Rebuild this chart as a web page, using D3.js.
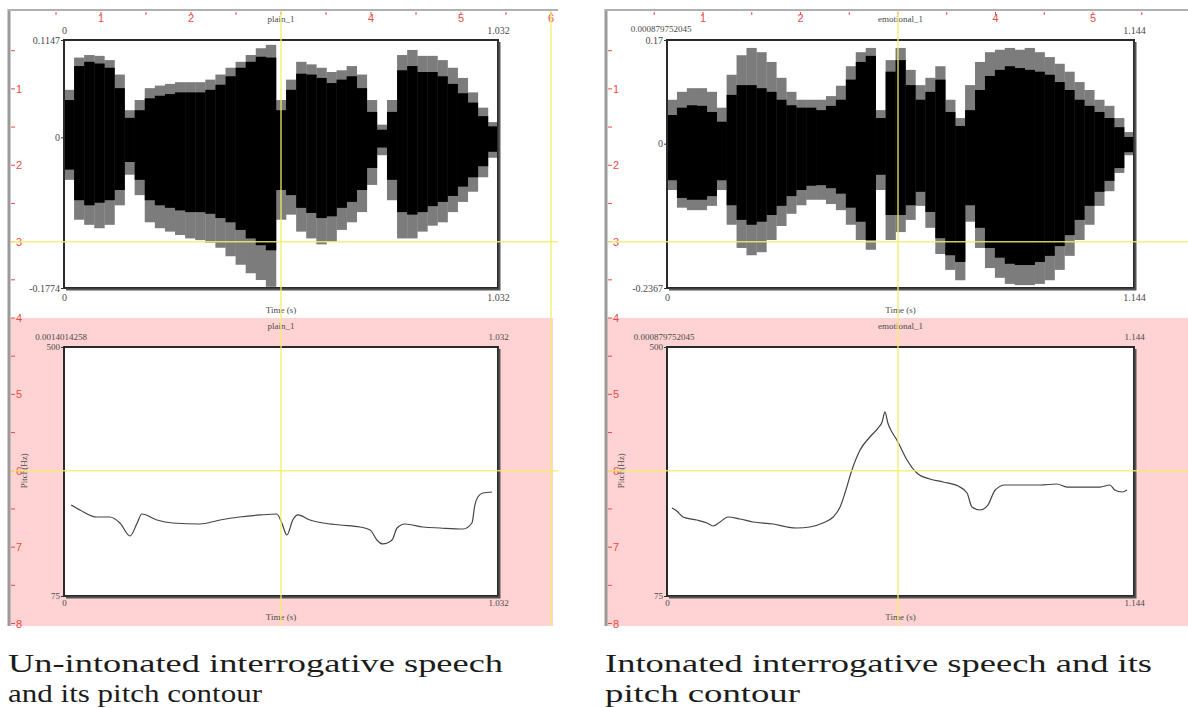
<!DOCTYPE html>
<html>
<head>
<meta charset="utf-8">
<script src="https://cdn.jsdelivr.net/npm/d3@7"></script>
<style>
  body { margin: 0; background: #fff; }
  svg { display: block; }
</style>
</head>
<body>
<svg id="chart" width="1188" height="708"></svg>
<script>
// ---- plain_1 (un-intonated) ----
const plainDur = 1.032;
const plainAmp = [-0.1774, 0.1147];
const plainOffset = "0.0014014258";
// waveform envelope, equal time bins across the recording
const plainGrayTop = [0.056, 0.094, 0.097, 0.096, 0.091, 0.074, 0.032, 0.044, 0.058, 0.061, 0.063, 0.065, 0.065, 0.065, 0.068, 0.074, 0.082, 0.089, 0.097, 0.105, 0.109, 0.044, 0.068, 0.089, 0.086, 0.082, 0.077, 0.079, 0.084, 0.074, 0.044, 0.015, 0.044, 0.097, 0.103, 0.096, 0.096, 0.091, 0.082, 0.070, 0.053, 0.035, 0.018];
const plainBlackTop = [0.044, 0.084, 0.089, 0.087, 0.082, 0.058, 0.023, 0.032, 0.046, 0.049, 0.051, 0.053, 0.053, 0.053, 0.056, 0.062, 0.072, 0.082, 0.089, 0.095, 0.094, 0.032, 0.056, 0.075, 0.074, 0.070, 0.064, 0.068, 0.072, 0.058, 0.030, 0.009, 0.030, 0.079, 0.084, 0.077, 0.077, 0.072, 0.063, 0.052, 0.041, 0.025, 0.013];
const plainBlackBottom = [-0.038, -0.074, -0.080, -0.077, -0.074, -0.062, -0.029, -0.050, -0.074, -0.080, -0.083, -0.086, -0.088, -0.088, -0.090, -0.095, -0.100, -0.109, -0.119, -0.127, -0.133, -0.062, -0.068, -0.083, -0.089, -0.095, -0.093, -0.083, -0.076, -0.062, -0.036, -0.012, -0.050, -0.088, -0.091, -0.088, -0.081, -0.076, -0.069, -0.058, -0.047, -0.034, -0.017];
const plainGrayBottom = [-0.050, -0.097, -0.103, -0.107, -0.103, -0.080, -0.044, -0.068, -0.100, -0.107, -0.111, -0.115, -0.119, -0.121, -0.124, -0.130, -0.140, -0.150, -0.160, -0.168, -0.176, -0.097, -0.091, -0.111, -0.119, -0.126, -0.123, -0.109, -0.100, -0.088, -0.056, -0.021, -0.074, -0.119, -0.119, -0.111, -0.104, -0.100, -0.088, -0.076, -0.064, -0.047, -0.024];
// pitch contour
const plainPitchT = [0.017, 0.038, 0.078, 0.109, 0.133, 0.157, 0.174, 0.185, 0.221, 0.259, 0.323, 0.371, 0.418, 0.466, 0.506, 0.518, 0.530, 0.544, 0.556, 0.585, 0.616, 0.656, 0.704, 0.728, 0.744, 0.758, 0.780, 0.792, 0.811, 0.854, 0.894, 0.949, 0.970, 0.977, 0.984, 0.996, 1.018];
const plainPitchHz = [230.3, 221.8, 209.8, 209.8, 199.6, 177.4, 199.6, 215.0, 204.7, 199.6, 197.9, 204.7, 209.8, 213.3, 215.0, 199.6, 179.1, 204.7, 213.3, 204.7, 199.6, 196.2, 192.8, 187.6, 170.6, 163.8, 170.6, 191.1, 197.9, 192.8, 191.1, 189.4, 199.6, 230.3, 244.0, 250.8, 252.5];

// ---- emotional_1 (intonated) ----
const emoDur = 1.144;
const emoAmp = [-0.2367, 0.17];
const emoOffset = "0.000879752045";
const emoGrayTop = [0.072, 0.085, 0.091, 0.091, 0.085, 0.059, 0.113, 0.145, 0.157, 0.150, 0.134, 0.108, 0.085, 0.072, 0.072, 0.072, 0.078, 0.095, 0.127, 0.150, 0.157, 0.055, 0.137, 0.157, 0.121, 0.096, 0.108, 0.127, 0.072, 0.042, 0.096, 0.134, 0.150, 0.154, 0.157, 0.154, 0.157, 0.150, 0.142, 0.131, 0.118, 0.101, 0.088, 0.072, 0.062, 0.042, 0.019];
const emoBlackTop = [0.047, 0.059, 0.063, 0.062, 0.052, 0.036, 0.080, 0.096, 0.096, 0.091, 0.085, 0.072, 0.063, 0.059, 0.059, 0.055, 0.062, 0.072, 0.105, 0.134, 0.144, 0.042, 0.118, 0.137, 0.096, 0.072, 0.085, 0.105, 0.052, 0.029, 0.055, 0.088, 0.111, 0.121, 0.127, 0.124, 0.121, 0.118, 0.113, 0.101, 0.088, 0.072, 0.062, 0.052, 0.042, 0.027, 0.011];
const emoBlackBottom = [-0.060, -0.089, -0.092, -0.092, -0.086, -0.060, -0.101, -0.125, -0.133, -0.128, -0.117, -0.102, -0.086, -0.076, -0.069, -0.068, -0.073, -0.082, -0.105, -0.128, -0.158, -0.051, -0.117, -0.117, -0.101, -0.079, -0.112, -0.155, -0.183, -0.194, -0.101, -0.138, -0.171, -0.187, -0.197, -0.199, -0.199, -0.194, -0.184, -0.168, -0.150, -0.125, -0.102, -0.079, -0.061, -0.040, -0.014];
const emoGrayBottom = [-0.076, -0.105, -0.109, -0.109, -0.102, -0.076, -0.133, -0.171, -0.183, -0.178, -0.158, -0.135, -0.115, -0.101, -0.092, -0.092, -0.099, -0.109, -0.133, -0.158, -0.174, -0.076, -0.158, -0.145, -0.125, -0.102, -0.138, -0.181, -0.207, -0.224, -0.128, -0.171, -0.204, -0.220, -0.230, -0.232, -0.232, -0.230, -0.224, -0.207, -0.184, -0.158, -0.133, -0.102, -0.078, -0.048, -0.019];
const emoPitchT = [0.012, 0.024, 0.039, 0.073, 0.098, 0.113, 0.130, 0.149, 0.179, 0.211, 0.260, 0.294, 0.318, 0.350, 0.382, 0.407, 0.424, 0.436, 0.453, 0.473, 0.497, 0.517, 0.527, 0.534, 0.541, 0.551, 0.563, 0.588, 0.612, 0.644, 0.676, 0.713, 0.735, 0.747, 0.767, 0.786, 0.804, 0.828, 0.872, 0.914, 0.955, 0.980, 1.019, 1.061, 1.085, 1.097, 1.115, 1.127];
const emoPitchHz = [225.2, 220.1, 209.8, 204.7, 199.6, 194.5, 201.3, 209.8, 206.4, 201.3, 197.9, 192.8, 191.1, 192.8, 199.6, 209.8, 226.9, 250.8, 290.1, 324.2, 346.4, 361.7, 372.0, 389.1, 370.3, 354.9, 341.3, 307.1, 284.9, 274.7, 269.6, 262.7, 250.8, 226.9, 221.8, 230.3, 255.9, 264.5, 264.5, 264.5, 266.2, 261.0, 261.0, 261.0, 264.5, 255.9, 252.5, 255.9];

const pitchRange = [75, 500];
// the "3" of the top ruler is covered by the recording title
const rulerXLabels = [1, 2, 4, 5, 6];
const rulerYLabels = [1, 2, 3, 4, 5, 6, 7, 8];

const captionLeft = ["Un-intonated interrogative speech", "and its pitch contour"];
const captionRight = ["Intonated interrogative speech and its", "pitch contour"];

const svg = d3.select("#chart");
const serif = "'Liberation Serif', 'Times New Roman', serif";
const sans = "'Liberation Sans', Arial, sans-serif";
const red = "#ee4a45";
const yellow = "#f4ee6a";

function drawPanel(p) {
  const g = svg.append("g");
  const rx = d3.scaleLinear().domain([0, 6]).range(p.rulerX);
  const ry = d3.scaleLinear().domain([0, 8]).range([12.5, 623.5]);
  const bottom = 626;

  // lower pink band
  g.append("rect")
    .attr("x", p.frame[0]).attr("y", ry(4))
    .attr("width", p.frame[1] - p.frame[0]).attr("height", bottom - ry(4))
    .attr("fill", "#ffd3d3");

  // frame edges
  g.append("line")
    .attr("x1", p.frame[0] + 1).attr("x2", p.frame[0] + 1)
    .attr("y1", 9).attr("y2", bottom)
    .attr("stroke", "#9a9a9a").attr("stroke-width", 3);
  g.append("line")
    .attr("x1", p.frame[0]).attr("x2", p.frameTop)
    .attr("y1", 10).attr("y2", 10)
    .attr("stroke", "#b0b0b0").attr("stroke-width", 2);

  // ruler ticks (red)
  const halfX = d3.range(0.5, 6.01, 0.5).filter(d => rx(d) < 1186);
  g.append("g").selectAll("line").data(halfX).join("line")
    .attr("x1", d => rx(d)).attr("x2", d => rx(d))
    .attr("y1", 12).attr("y2", 15)
    .attr("stroke", red).attr("stroke-width", 1);
  g.append("g").selectAll("text").data(rulerXLabels.filter(d => rx(d) < 1180)).join("text")
    .attr("x", d => rx(d)).attr("y", 22)
    .attr("text-anchor", "middle")
    .attr("font-family", sans).attr("font-size", 11)
    .attr("fill", red)
    .text(d => d);

  const halfY = d3.range(0.5, 8.01, 0.5);
  g.append("g").selectAll("line").data(halfY).join("line")
    .attr("x1", p.frame[0] + 3).attr("x2", p.frame[0] + 7)
    .attr("y1", d => ry(d)).attr("y2", d => ry(d))
    .attr("stroke", red).attr("stroke-width", 1);
  g.append("g").selectAll("text").data(rulerYLabels).join("text")
    .attr("x", p.frame[0] + 8).attr("y", d => ry(d) + 4)
    .attr("font-family", sans).attr("font-size", 11)
    .attr("fill", red)
    .text(d => d);

  const cx = (p.x0 + p.x1) / 2;
  const labelStyle = sel => sel.attr("font-family", serif).attr("font-size", 9).attr("fill", "#4a4a4a");

  // ---- waveform ----
  const wt = { y0: 40, y1: 288 };
  g.append("rect").attr("x", p.x0).attr("y", wt.y0)
    .attr("width", p.x1 - p.x0).attr("height", wt.y1 - wt.y0).attr("fill", "#fff");
  const tx = d3.scaleLinear().domain([0, p.dur]).range([p.x0, p.x1]);
  const ay = d3.scaleLinear().domain(p.amp).range([wt.y1, wt.y0]);
  const n = p.grayTop.length;
  const bins = d3.range(n);
  const bw = (p.x1 - p.x0) / n;

  g.append("g").selectAll("rect").data(bins).join("rect")
    .attr("x", i => tx(i * p.dur / n))
    .attr("width", bw + 0.3)
    .attr("y", i => ay(p.grayTop[i]))
    .attr("height", i => ay(p.grayBottom[i]) - ay(p.grayTop[i]))
    .attr("fill", "#7c7c7c");
  g.append("g").selectAll("rect").data(bins).join("rect")
    .attr("x", i => tx(i * p.dur / n))
    .attr("width", bw + 0.3)
    .attr("y", i => ay(p.blackTop[i]))
    .attr("height", i => ay(p.blackBottom[i]) - ay(p.blackTop[i]))
    .attr("fill", "#000");

  drawBox(g, p.x0, p.x1, wt.y0, wt.y1);

  const fmt = d => d === 0 ? "0" : String(d);
  g.append("g").attr("transform", `translate(0,${wt.y0})`)
    .call(d3.axisTop(tx).tickValues(p.topNote ? [p.dur] : [0, p.dur]).tickSize(0).tickPadding(6).tickFormat(fmt))
    .call(a => a.select(".domain").remove())
    .call(a => labelStyle(a.selectAll("text")));
  g.append("g").attr("transform", `translate(0,${wt.y1})`)
    .call(d3.axisBottom(tx).tickValues([0, p.dur]).tickSize(0).tickPadding(6).tickFormat(fmt))
    .call(a => a.select(".domain").remove())
    .call(a => labelStyle(a.selectAll("text")));
  g.append("g").attr("transform", `translate(${p.x0},0)`)
    .call(d3.axisLeft(ay).tickValues([p.amp[0], 0, p.amp[1]]).tickSize(3).tickPadding(1).tickFormat(fmt))
    .call(a => a.select(".domain").remove())
    .call(a => a.selectAll("line").attr("stroke", "#333"))
    .call(a => labelStyle(a.selectAll("text")));
  g.selectAll(".tick text").attr("font-size", null);

  const title = (y, txt) => labelStyle(g.append("text").attr("x", cx).attr("y", y).attr("text-anchor", "middle").text(txt));
  title(22, p.name);
  if (p.topNote) labelStyle(g.append("text").attr("x", p.x0 - 6).attr("y", 32).attr("text-anchor", "middle").text(p.topNote));
  title(313, "Time (s)");

  // ---- pitch contour ----
  const pt = { y0: 347, y1: 596 };
  title(329, p.name);
  labelStyle(g.append("text").attr("x", p.x0 - 3).attr("y", 340).attr("text-anchor", "middle").text(p.offset));
  g.append("rect").attr("x", p.x0).attr("y", pt.y0)
    .attr("width", p.x1 - p.x0).attr("height", pt.y1 - pt.y0).attr("fill", "#fff");
  const py = d3.scaleLinear().domain(pitchRange).range([pt.y1, pt.y0]);
  const line = d3.line()
    .x((d, i) => tx(p.pitchT[i]))
    .y(d => py(d))
    .curve(d3.curveMonotoneX);
  g.append("path").datum(p.pitchHz)
    .attr("d", line)
    .attr("fill", "none")
    .attr("stroke", "#444")
    .attr("stroke-width", 1.2);

  drawBox(g, p.x0, p.x1, pt.y0, pt.y1);

  g.append("g").attr("transform", `translate(0,${pt.y0})`)
    .call(d3.axisTop(tx).tickValues([p.dur]).tickSize(0).tickPadding(7).tickFormat(fmt))
    .call(a => a.select(".domain").remove())
    .call(a => labelStyle(a.selectAll("text")));
  g.append("g").attr("transform", `translate(0,${pt.y1})`)
    .call(d3.axisBottom(tx).tickValues([0, p.dur]).tickSize(0).tickPadding(4).tickFormat(fmt))
    .call(a => a.select(".domain").remove())
    .call(a => labelStyle(a.selectAll("text")));
  g.append("g").attr("transform", `translate(${p.x0},0)`)
    .call(d3.axisLeft(py).tickValues(pitchRange).tickSize(3).tickPadding(1))
    .call(a => a.select(".domain").remove())
    .call(a => a.selectAll("line").attr("stroke", "#333"))
    .call(a => labelStyle(a.selectAll("text")));
  title(620, "Time (s)");
  labelStyle(g.append("text")
    .attr("transform", `translate(${p.frame[0] + 19},${ry(6)}) rotate(-90)`)
    .attr("text-anchor", "middle").text("Pitch(Hz)"));

  // yellow guide lines
  g.append("g").selectAll("line").data(p.vGuides).join("line")
    .attr("x1", d => rx(d)).attr("x2", d => rx(d))
    .attr("y1", 11).attr("y2", bottom)
    .attr("stroke", yellow).attr("stroke-width", 1.5).attr("opacity", 0.85);
  g.append("g").selectAll("line").data([3, 6]).join("line")
    .attr("x1", p.frame[0] + 3).attr("x2", p.frameTop)
    .attr("y1", d => ry(d)).attr("y2", d => ry(d))
    .attr("stroke", yellow).attr("stroke-width", 1.5).attr("opacity", 0.85);

  // caption
  g.append("g").selectAll("text").data(p.caption).join("text")
    .attr("x", p.frame[0])
    .attr("y", (d, i) => 672 + i * 30)
    .attr("font-family", serif).attr("font-size", 25)
    .attr("fill", "#1c1c1c")
    .attr("textLength", (d, i) => p.captionWidth[i])
    .attr("lengthAdjust", "spacingAndGlyphs")
    .text(d => d);
}

function drawBox(g, x0, x1, y0, y1) {
  g.append("rect").attr("x", x0).attr("y", y0)
    .attr("width", x1 - x0).attr("height", y1 - y0)
    .attr("fill", "none").attr("stroke", "#2a2a2a").attr("stroke-width", 2);
  g.append("path")
    .attr("d", `M${x1 + 1.5},${y0 + 2}V${y1 + 1.5}H${x0 + 2}`)
    .attr("fill", "none").attr("stroke", "#555").attr("stroke-width", 2);
}

drawPanel({
  name: "plain_1", dur: plainDur, amp: plainAmp, offset: plainOffset, topNote: null,
  grayTop: plainGrayTop, blackTop: plainBlackTop, blackBottom: plainBlackBottom, grayBottom: plainGrayBottom,
  pitchT: plainPitchT, pitchHz: plainPitchHz,
  frame: [8, 553], frameTop: 558, rulerX: [11, 551],
  x0: 64, x1: 498, vGuides: [3, 6],
  caption: captionLeft, captionWidth: [495, 254]
});
drawPanel({
  name: "emotional_1", dur: emoDur, amp: emoAmp, offset: emoOffset, topNote: emoOffset,
  grayTop: emoGrayTop, blackTop: emoBlackTop, blackBottom: emoBlackBottom, grayBottom: emoGrayBottom,
  pitchT: emoPitchT, pitchHz: emoPitchHz,
  frame: [605, 1188], frameTop: 1188, rulerX: [605.5, 1190.5],
  x0: 667, x1: 1134, vGuides: [3],
  caption: captionRight, captionWidth: [547, 195]
});
</script>
</body>
</html>
